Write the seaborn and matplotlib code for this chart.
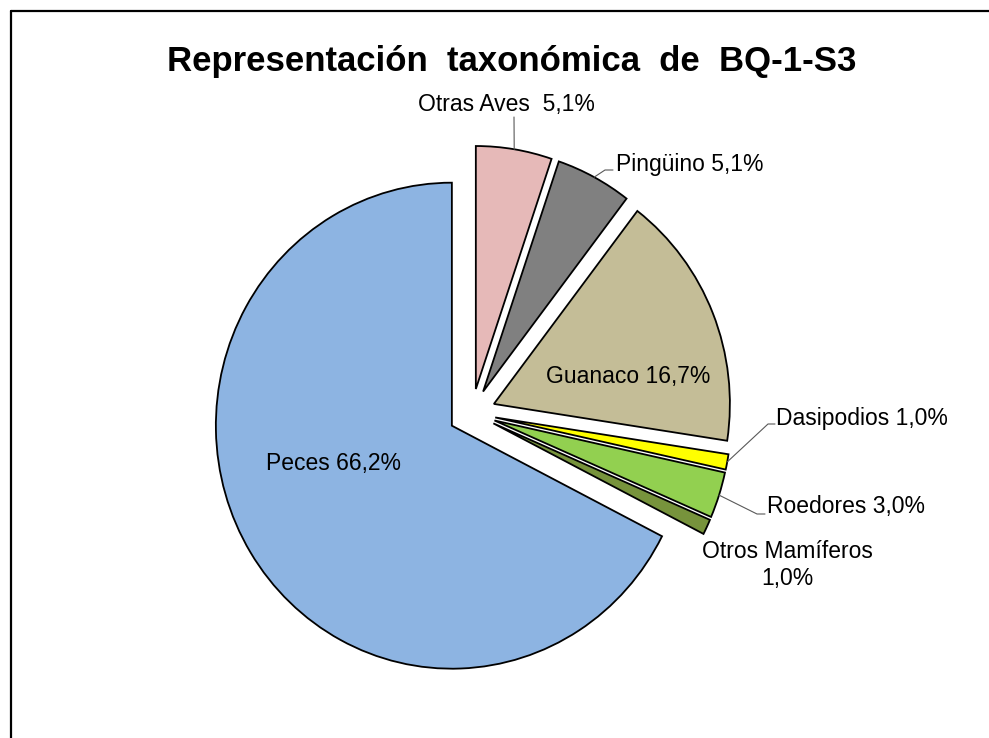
import matplotlib
matplotlib.use("Agg")
import matplotlib.pyplot as plt
from matplotlib.lines import Line2D
import numpy as np
import seaborn as sns

# datos
categorias = ["Otras Aves", "Pingüino", "Guanaco", "Dasipodios", "Roedores", "Otros Mamíferos", "Peces"]
porcentajes = [5.1, 5.1, 16.7, 1.0, 3.0, 1.0, 66.2]
colores = ["#E6B9B8", "#808080", "#C4BD97", "#FFFF00", "#92D050", "#77933C", "#8DB4E2"]
separadores = ["  ", " ", " ", " ", " ", "\n", " "]
titulo = "Representación  taxonómica  de  BQ-1-S3"

# layout (pixeles de la figura)
W, H = 989, 738
CX, CY, RX, RY = 472, 413, 236, 243
pos_etiquetas = {
    "Otras Aves": (506, 104, "center"),
    "Pingüino": (616, 164, "left"),
    "Guanaco": (628, 376, "center"),
    "Dasipodios": (776, 418, "left"),
    "Roedores": (767, 507, "left"),
    "Otros Mamíferos": (787, 565, "center"),
    "Peces": (334, 463, "center"),
}
guias = {
    "Otras Aves": [(514, 117)],
    "Pingüino": [(605, 170), (613, 170)],
    "Dasipodios": [(768, 424), (775, 424)],
    "Roedores": [(757, 514), (765, 514)],
}


def px(x, y):
    return (x - CX) / RX, (CY - y) / RY


sns.set_theme(style="white")
plt.rcParams["font.family"] = ["Liberation Sans", "DejaVu Sans"]

fig = plt.figure(figsize=(W / 100, H / 100), dpi=100)
ax = fig.add_axes([0, 0, 1, 1])

wedges, _ = ax.pie(porcentajes, colors=sns.color_palette(colores), startangle=90,
                   counterclock=False, explode=[0.1] * len(porcentajes),
                   wedgeprops=dict(edgecolor="black", linewidth=1.3))

x0, y0 = px(0, H)
x1, y1 = px(W, 0)
ax.set_xlim(x0, x1)
ax.set_ylim(y0, y1)
ax.set_aspect("auto")
ax.axis("off")

for w, nombre, valor, sep in zip(wedges, categorias, porcentajes, separadores):
    texto = f"{nombre}{sep}{valor:.1f}%".replace(".", ",")
    tx, ty, ha = pos_etiquetas[nombre]
    ax.text(*px(tx, ty), texto, ha=ha, va="center", fontsize=16.5, color="black",
            multialignment="center", linespacing=1.2)
    if nombre in guias:
        t = np.deg2rad((w.theta1 + w.theta2) / 2)
        sx = w.center[0] + w.r * np.cos(t)
        sy = w.center[1] + w.r * np.sin(t)
        pts = [(sx, sy)] + [px(a, b) for a, b in guias[nombre]]
        ax.plot([p[0] for p in pts], [p[1] for p in pts], color="#595959", lw=0.8)

fig.text(512 / W, 1 - 62 / H, titulo, ha="center", va="center",
         fontsize=25, fontweight="bold", color="black")

# marco del grafico
fig.add_artist(Line2D([11 / W, 11 / W], [0, 1 - 11 / H], transform=fig.transFigure,
                      color="black", lw=1.6))
fig.add_artist(Line2D([11 / W, 1], [1 - 11 / H, 1 - 11 / H], transform=fig.transFigure,
                      color="black", lw=1.6))

fig.savefig("out.png", dpi=100)
plt.close()
